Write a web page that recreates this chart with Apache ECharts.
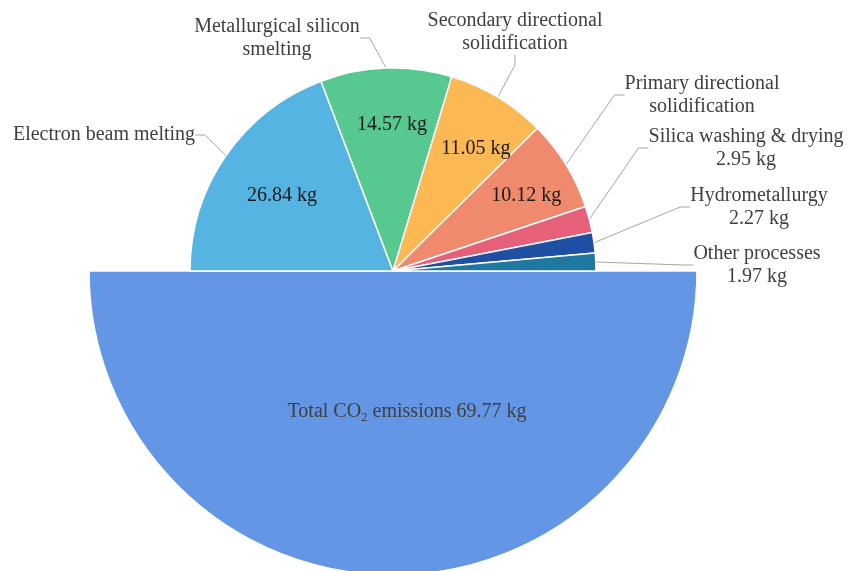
<!DOCTYPE html>
<html>
<head>
<meta charset="utf-8">
<script src="https://cdn.jsdelivr.net/npm/echarts@6/dist/echarts.min.js"></script>
<style>html,body{margin:0;padding:0;background:#fff}#c{width:858px;height:571px}</style>
</head>
<body>
<div id="c"></div>
<script>
const processNames = ['Electron beam melting', 'Metallurgical silicon\nsmelting', 'Secondary directional\nsolidification', 'Primary directional\nsolidification', 'Silica washing & drying', 'Hydrometallurgy', 'Other processes'];
const processValues = [26.84, 14.57, 11.05, 10.12, 2.95, 2.27, 1.97];
const totalValue = 69.77;
const totalLabel = 'Total CO2 emissions';
const unit = 'kg';

const colors = ['#56b4e2', '#56c890', '#fcb853', '#ef8a6c', '#e6607a', '#1f4fa3', '#1f78a0'];
const totalColor = '#6397e5';
const serif = '"Liberation Serif", "Times New Roman", serif';

// layout-only label anchors (centers), in px
const labelPos = [
  [104, 135], [277, 38], [515, 32], [702, 95], [746, 148], [759, 207], [757, 265]
];
const insideSet = [true, true, true, true, false, false, false];
const insideOffset = [[10, 8], [4, 1], [7, 4], [8, 2]];

const center = [393, 271];
const R = 203;
const Rbig = 304;

const topData = processNames.map((n, i) => ({
  name: n,
  value: processValues[i],
  itemStyle: { color: colors[i] }
}));
topData.push({ name: '_pad', value: totalValue, itemStyle: { color: 'transparent', borderWidth: 0 }, label: { show: false }, labelLine: { show: false }, tooltip: { show: false } });

const innerData = processNames.map((n, i) => ({
  name: n,
  value: processValues[i],
  label: { show: insideSet[i], offset: insideOffset[i] || [0, 0] }
}));
innerData.push({ name: '_pad', value: totalValue, label: { show: false } });

const chart = echarts.init(document.getElementById('c'));
chart.setOption({
  backgroundColor: '#ffffff',
  animation: false,
  series: [
    {
      type: 'pie',
      center: center,
      radius: [0, Rbig],
      startAngle: 180,
      clockwise: false,
      silent: true,
      data: [
        { name: totalLabel, value: totalValue, itemStyle: { color: totalColor } },
        { name: '_pad2', value: totalValue, itemStyle: { color: 'transparent', borderWidth: 0 }, label: { show: false }, labelLine: { show: false } }
      ],
      itemStyle: { borderColor: '#ffffff', borderWidth: 1.5 },
      label: {
        show: true,
        position: 'inside',
        offset: [14, -14],
        formatter: p => '{a|Total CO}{s|2}{a| emissions ' + p.value.toFixed(2) + ' ' + unit + '}',
        rich: {
          a: { fontFamily: serif, fontSize: 20, color: '#3f3f3f', lineHeight: 24 },
          s: { fontFamily: serif, fontSize: 13, color: '#3f3f3f', lineHeight: 14, verticalAlign: 'bottom', padding: [11, 0, 0, 0] }
        }
      },
      labelLine: { show: false }
    },
    {
      type: 'pie',
      center: center,
      radius: [0, R],
      startAngle: 180,
      clockwise: true,
      avoidLabelOverlap: false,
      silent: true,
      data: topData,
      itemStyle: { borderColor: '#ffffff', borderWidth: 1.5 },
      label: {
        show: true,
        position: 'outside',
        fontFamily: serif,
        fontSize: 20,
        lineHeight: 23,
        color: '#404040',
        align: 'center',
        formatter: p => insideSet[p.dataIndex] ? p.name : p.name + '\n' + p.value.toFixed(2) + ' ' + unit
      },
      labelLine: {
        show: true,
        length: 14,
        length2: 10,
        lineStyle: { color: '#a6a6a6', width: 1 }
      },
      labelLayout: p => {
        const pos = labelPos[p.dataIndex];
        if (!pos) return {};
        return { x: pos[0], y: pos[1], align: 'center', verticalAlign: 'middle' };
      }
    },
    {
      type: 'pie',
      center: center,
      radius: [R * 0.42, R],
      startAngle: 180,
      clockwise: true,
      silent: true,
      data: innerData,
      itemStyle: { color: 'transparent', borderWidth: 0 },
      label: {
        show: true,
        position: 'inside',
        fontFamily: serif,
        fontSize: 20,
        color: '#1a1a1a',
        formatter: p => p.value.toFixed(2) + ' ' + unit
      },
      labelLine: { show: false }
    }
  ]
});
</script>
</body>
</html>
